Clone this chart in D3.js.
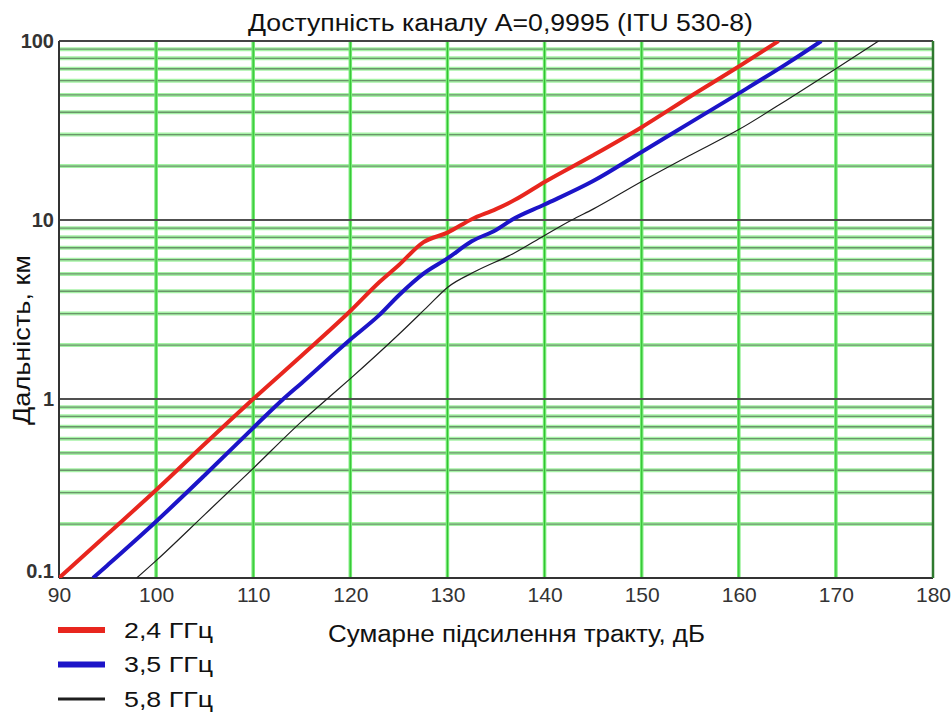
<!DOCTYPE html>
<html>
<head>
<meta charset="utf-8">
<script src="https://cdn.jsdelivr.net/npm/d3@7"></script>
<style>
  body { margin: 0; background: #fff; }
  text { font-family: "Liberation Sans", Arial, sans-serif; }
</style>
</head>
<body>
<div id="chart"></div>
<script>
// Tick values on both axes
const xTicks = [90, 100, 110, 120, 130, 140, 150, 160, 170, 180];
const yTicks = [0.1, 1, 10, 100];
const yTickLabels = ["0.1", "1", "10", "100"];

// 2,4 GHz curve: total path gain (dB) -> distance (km)
const gain24 = [90, 95, 100, 105, 110, 115, 120, 123, 125, 127.5, 130, 132.5, 135, 137, 140, 145, 150, 155, 160, 164.1];
const dist24 = [0.1, 0.176, 0.31, 0.56, 1.0, 1.75, 3.1, 4.5, 5.6, 7.5, 8.5, 10.1, 11.5, 13.0, 16.3, 23, 33, 49, 72, 100];

// 3,5 GHz curve
const gain35 = [93.5, 95, 100, 105, 110, 113.1, 115, 120, 123, 125, 127.5, 130, 132.5, 135, 136.6, 140, 145, 150, 155, 160, 165, 168.5];
const dist35 = [0.1, 0.118, 0.207, 0.375, 0.69, 1.0, 1.23, 2.15, 2.95, 3.8, 5.0, 6.1, 7.6, 8.8, 10, 12.2, 16.5, 24, 35, 51, 75, 100];

// 5,8 GHz curve
const gain58 = [98, 100, 105, 110, 115, 117.6, 120, 125, 128, 130, 133, 136.8, 140, 142.8, 145, 150, 155, 160, 165, 170, 174.4];
const dist58 = [0.1, 0.125, 0.226, 0.41, 0.75, 1.0, 1.3, 2.3, 3.3, 4.2, 5.2, 6.5, 8.2, 10, 11.5, 16.4, 23, 32, 47, 70, 100];

const seriesNames = ["2,4 ГГц", "3,5 ГГц", "5,8 ГГц"];
const seriesColors = ["#e8261e", "#1c14c8", "#1e1e1e"];
const seriesWidths = [4, 4, 1.2];

const width = 952, height = 713;
const plot = { left: 59, right: 933, top: 41, bottom: 578 };

const svg = d3.select("#chart")
    .append("svg")
    .attr("width", width)
    .attr("height", height);

const x = d3.scaleLinear().domain([90, 180]).range([plot.left, plot.right]);
const y = d3.scaleLog().domain([0.1, 100]).range([plot.bottom, plot.top]);

// Minor horizontal grid (2..9 of each decade): green band with grey core
const minor = y.ticks().filter(v => !yTicks.some(t => Math.abs(t - v) < 1e-9));
svg.append("g").selectAll("line")
    .data(minor).enter().append("line")
    .attr("x1", plot.left).attr("x2", plot.right)
    .attr("y1", d => y(d)).attr("y2", d => y(d))
    .attr("stroke", "#a6f2a6").attr("stroke-width", 4);
svg.append("g").selectAll("line")
    .data(minor).enter().append("line")
    .attr("x1", plot.left).attr("x2", plot.right)
    .attr("y1", d => y(d)).attr("y2", d => y(d))
    .attr("stroke", "#6a956a").attr("stroke-width", 1.3);

// Vertical grid every 10 dB
const inner = xTicks.filter(v => v > 90 && v < 180);
svg.append("g").selectAll("line")
    .data(inner).enter().append("line")
    .attr("x1", d => x(d)).attr("x2", d => x(d))
    .attr("y1", plot.top).attr("y2", plot.bottom)
    .attr("stroke", "#72ea72").attr("stroke-width", 3.5);
svg.append("g").selectAll("line")
    .data(inner).enter().append("line")
    .attr("x1", d => x(d)).attr("x2", d => x(d))
    .attr("y1", plot.top).attr("y2", plot.bottom)
    .attr("stroke", "#30c030").attr("stroke-width", 1);

// Decade lines
svg.append("g").selectAll("line")
    .data([1, 10]).enter().append("line")
    .attr("x1", plot.left).attr("x2", plot.right)
    .attr("y1", d => y(d)).attr("y2", d => y(d))
    .attr("stroke", "#505050").attr("stroke-width", 2.2);

// Frame
svg.append("line").attr("x1", plot.left).attr("x2", plot.right)
    .attr("y1", plot.top).attr("y2", plot.top).attr("stroke", "#444").attr("stroke-width", 2);
svg.append("line").attr("x1", plot.left).attr("x2", plot.right)
    .attr("y1", plot.bottom).attr("y2", plot.bottom).attr("stroke", "#333").attr("stroke-width", 2);
svg.append("line").attr("x1", plot.left).attr("x2", plot.left)
    .attr("y1", plot.top).attr("y2", plot.bottom).attr("stroke", "#333").attr("stroke-width", 2);
svg.append("line").attr("x1", plot.right).attr("x2", plot.right)
    .attr("y1", plot.top).attr("y2", plot.bottom).attr("stroke", "#2f7a2f").attr("stroke-width", 2.5);

// Curves
svg.append("defs").append("clipPath").attr("id", "clip")
    .append("rect")
    .attr("x", plot.left).attr("y", plot.top)
    .attr("width", plot.right - plot.left).attr("height", plot.bottom - plot.top);

const series = [
    gain24.map((g, i) => [g, dist24[i]]),
    gain35.map((g, i) => [g, dist35[i]]),
    gain58.map((g, i) => [g, dist58[i]])
];
const line = d3.line()
    .x(d => x(d[0]))
    .y(d => y(d[1]))
    .curve(d3.curveMonotoneX);

svg.append("g").attr("clip-path", "url(#clip)")
    .selectAll("path")
    .data(series).enter().append("path")
    .attr("fill", "none")
    .attr("stroke", (d, i) => seriesColors[i])
    .attr("stroke-width", (d, i) => seriesWidths[i])
    .attr("stroke-linejoin", "round")
    .attr("d", line);

// Title with white backing
svg.append("rect").attr("x", 222).attr("y", 0).attr("width", 556).attr("height", 40).attr("fill", "#fff");
svg.append("text")
    .attr("x", 248).attr("y", 31)
    .attr("textLength", 505).attr("lengthAdjust", "spacingAndGlyphs")
    .style("font-size", "23px").style("fill", "#111")
    .text("Доступність каналу A=0,9995 (ITU 530-8)");

// X axis
const xAxis = svg.append("g")
    .attr("transform", `translate(0,${plot.bottom})`)
    .call(d3.axisBottom(x).tickValues(xTicks).tickSize(0).tickPadding(9));
xAxis.select(".domain").remove();
xAxis.selectAll("text")
    .style("font-size", "21px").style("fill", "#333")
    .style("font-family", "'Liberation Sans', Arial, sans-serif");

// Y axis
const yAxis = svg.append("g")
    .attr("transform", `translate(${plot.left},0)`)
    .call(d3.axisLeft(y).tickValues(yTicks).tickFormat((d, i) => yTickLabels[i]).tickSize(0).tickPadding(5));
yAxis.select(".domain").remove();
yAxis.selectAll("text")
    .style("font-size", "20px").style("font-weight", "bold").style("fill", "#333")
    .style("font-family", "'Liberation Sans', Arial, sans-serif")
    .attr("dy", (d, i) => i === 0 ? "-0.05em" : "0.32em");

// Axis titles
svg.append("text")
    .attr("x", 328).attr("y", 642)
    .attr("textLength", 377).attr("lengthAdjust", "spacingAndGlyphs")
    .style("font-size", "23px").style("fill", "#111")
    .text("Сумарне підсилення тракту, дБ");

svg.append("text")
    .attr("transform", "translate(30,425) rotate(-90)")
    .attr("textLength", 170).attr("lengthAdjust", "spacingAndGlyphs")
    .style("font-size", "23px").style("fill", "#111")
    .text("Дальність, км");

// Legend
const legend = svg.append("g");
seriesNames.forEach((name, i) => {
    const ly = 630 + i * 34.5;
    legend.append("line")
        .attr("x1", 58).attr("x2", 105)
        .attr("y1", ly).attr("y2", ly)
        .attr("stroke", seriesColors[i])
        .attr("stroke-width", i < 2 ? 6 : 3);
    legend.append("text")
        .attr("x", 124).attr("y", ly + 7.5)
        .attr("textLength", 89).attr("lengthAdjust", "spacingAndGlyphs")
        .style("font-size", "22.5px").style("fill", "#111")
        .text(name);
});
</script>
</body>
</html>
